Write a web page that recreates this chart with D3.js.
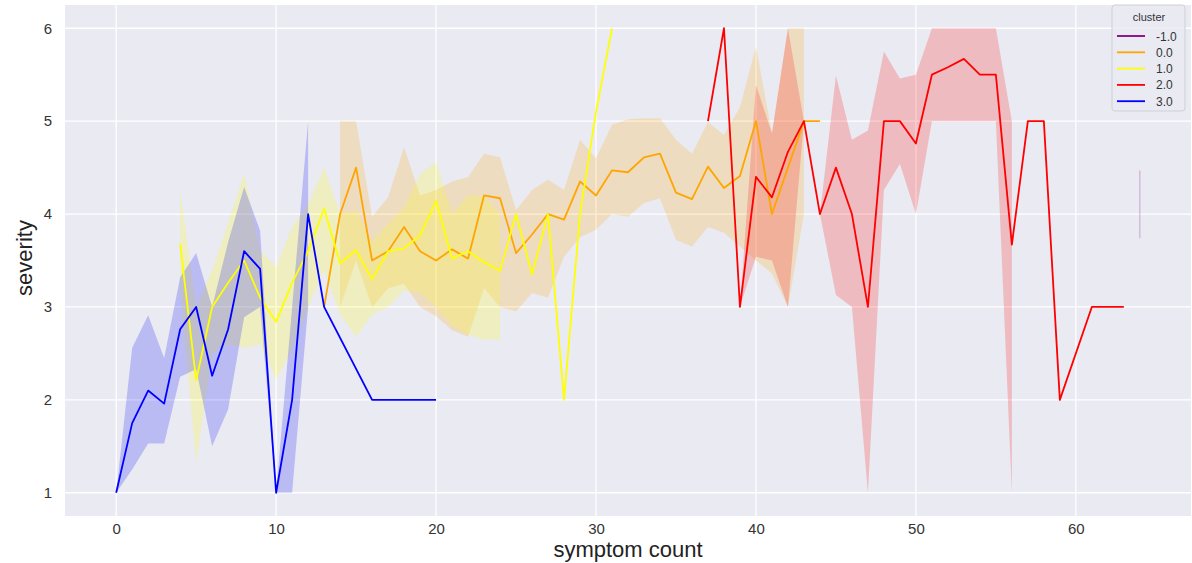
<!DOCTYPE html>
<html>
<head>
<meta charset="utf-8">
<script src="https://cdn.jsdelivr.net/npm/d3@7"></script>
<style>
  body { margin: 0; background: #fff; }
  text { font-family: "Liberation Sans", Arial, sans-serif; }
</style>
</head>
<body>
<div id="chart"></div>
<script>
var clusters = ["-1.0", "0.0", "1.0", "2.0", "3.0"];
var colors = ["purple", "orange", "yellow", "red", "blue"];

// cluster -1.0
var xs_m1 = [64];
var mean_m1 = [4.1];
var lo_m1 = [3.74];
var hi_m1 = [4.47];

// cluster 0.0
var xs_0 = [13, 14, 15, 16, 17, 18, 19, 20, 21, 22, 23, 24, 25, 26, 27, 28, 29, 30, 31, 32, 33, 34, 35, 36, 37, 38, 39, 40, 41, 42, 43, 44];
var mean_0 = [3.0, 4.0, 4.5, 3.5, 3.6, 3.86, 3.6, 3.5, 3.62, 3.52, 4.2, 4.17, 3.58, 3.78, 4.0, 3.94, 4.35, 4.2, 4.47, 4.45, 4.61, 4.65, 4.23, 4.16, 4.51, 4.28, 4.41, 5.0, 4.0, 4.5, 5.0, 5.0];
var lo_0 = [null, 3.0, 3.5, 3.0, 3.2, 3.25, 3.0, 2.9, 2.75, 2.68, 3.2, 3.0, 2.95, 3.15, 3.1, 3.54, 3.75, 3.83, 4.0, 3.97, 4.12, 4.17, 3.72, 3.65, 3.86, 3.8, 3.65, 3.5, 3.36, 3.0, 4.0, null];
var hi_0 = [null, 5.0, 5.0, 3.97, 4.18, 4.72, 4.2, 4.26, 4.35, 4.4, 4.65, 4.61, 4.04, 4.26, 4.37, 4.26, 4.8, 4.6, 4.96, 5.02, 5.03, 5.03, 4.8, 4.65, 4.99, 4.85, 5.15, 5.8, 4.87, 6.0, 6.0, null];

// cluster 1.0
var xs_1 = [4, 5, 6, 7, 8, 9, 10, 11, 12, 13, 14, 15, 16, 17, 18, 19, 20, 21, 22, 23, 24, 25, 26, 27, 28, 29, 30, 31];
var mean_1 = [3.68, 2.21, 3.0, 3.26, 3.5, 3.1, 2.84, 3.26, 3.6, 4.06, 3.47, 3.61, 3.3, 3.6, 3.63, 3.77, 4.14, 3.52, 3.6, 3.48, 3.39, 4.0, 3.35, 4.0, 2.0, 4.0, 5.1, 6.0];
var lo_1 = [3.2, 1.32, 2.5, 2.6, 2.56, 2.6, 2.22, 2.54, 3.0, 3.4, 2.92, 2.68, 2.92, 3.0, 3.18, 3.15, 3.0, 2.8, 2.7, 2.65, 2.65, null, null, null, null, null, null, null];
var hi_1 = [4.26, 3.0, 3.4, 3.9, 4.44, 3.6, 3.43, 3.86, 4.1, 4.5, 4.0, 4.04, 3.7, 3.9, 4.07, 4.43, 4.56, 4.0, 4.2, 4.2, 4.0, null, null, null, null, null, null, null];

// cluster 2.0
var xs_2 = [37, 38, 39, 40, 41, 42, 43, 44, 45, 46, 47, 48, 49, 50, 51, 52, 53, 54, 55, 56, 57, 58, 59, 61, 63];
var mean_2 = [5.0, 6.0, 3.0, 4.4, 4.18, 4.67, 5.0, 4.0, 4.5, 4.0, 3.0, 5.0, 5.0, 4.76, 5.5, 5.58, 5.67, 5.5, 5.5, 3.67, 5.0, 5.0, 2.0, 3.0, 3.0];
var lo_2 = [null, null, 3.0, 3.54, 3.5, 3.0, 5.0, 4.0, 3.13, 3.0, 1.0, 4.26, 4.54, 4.0, 5.0, 5.0, 5.0, 5.0, 5.0, 1.0, null, null, null, null, null];
var hi_2 = [null, null, 3.0, 5.39, 4.87, 6.0, 5.0, 4.0, 5.49, 4.8, 4.9, 5.75, 5.46, 5.5, 6.0, 6.0, 6.0, 6.0, 6.0, 5.0, null, null, null, null, null];

// cluster 3.0
var xs_3 = [0, 1, 2, 3, 4, 5, 6, 7, 8, 9, 10, 11, 12, 13, 16, 20];
var mean_3 = [1.0, 1.75, 2.1, 1.96, 2.76, 3.0, 2.26, 2.76, 3.6, 3.41, 1.0, 2.0, 4.0, 3.0, 2.0, 2.0];
var lo_3 = [1.0, 1.25, 1.53, 1.53, 2.25, 2.33, 1.5, 1.9, 2.89, 3.0, 1.0, 1.0, 3.0, null, null, null];
var hi_3 = [1.0, 2.56, 2.91, 2.45, 3.32, 3.58, 3.0, 3.7, 4.29, 3.82, 1.0, 3.0, 5.0, null, null, null];

var xTicks = [0, 10, 20, 30, 40, 50, 60];
var yTicks = [1, 2, 3, 4, 5, 6];

var series = [
  [xs_m1, mean_m1, lo_m1, hi_m1],
  [xs_0, mean_0, lo_0, hi_0],
  [xs_1, mean_1, lo_1, hi_1],
  [xs_2, mean_2, lo_2, hi_2],
  [xs_3, mean_3, lo_3, hi_3]
].map(function(s, k) {
  return {
    name: clusters[k],
    color: colors[k],
    points: s[0].map(function(x, i) {
      return { x: x, m: s[1][i], lo: s[2][i], hi: s[3][i] };
    })
  };
});

var W = 1192, H = 563;
var plotL = 65, plotR = 1191, plotT = 5, plotB = 516;

var svg = d3.select("#chart").append("svg")
    .attr("width", W)
    .attr("height", H);

var x = d3.scaleLinear().domain([-3.2, 67.2]).range([plotL, plotR]);
var y = d3.scaleLinear().domain([0.75, 6.25]).range([plotB, plotT]);

svg.append("rect")
    .attr("x", plotL).attr("y", plotT)
    .attr("width", plotR - plotL).attr("height", plotB - plotT)
    .attr("fill", "#eaeaf2");

// grid
svg.append("g").selectAll("line").data(xTicks).enter().append("line")
    .attr("x1", function(d) { return x(d); }).attr("x2", function(d) { return x(d); })
    .attr("y1", plotT).attr("y2", plotB)
    .attr("stroke", "#fff").attr("stroke-width", 1.3);
svg.append("g").selectAll("line").data(yTicks).enter().append("line")
    .attr("x1", plotL).attr("x2", plotR)
    .attr("y1", function(d) { return y(d); }).attr("y2", function(d) { return y(d); })
    .attr("stroke", "#fff").attr("stroke-width", 1.3);

// confidence bands first, lines on top
var area = d3.area()
    .defined(function(d) { return d.lo != null && d.hi != null; })
    .x(function(d) { return x(d.x); })
    .y0(function(d) { return y(d.lo); })
    .y1(function(d) { return y(d.hi); });

var line = d3.line()
    .x(function(d) { return x(d.x); })
    .y(function(d) { return y(d.m); });

series.forEach(function(s) {
  if (s.points.length > 1) {
    svg.append("path")
        .datum(s.points)
        .attr("d", area)
        .attr("fill", s.color)
        .attr("fill-opacity", 0.2)
        .attr("stroke", "none");
  } else {
    // a single x: the band shrinks to a vertical stroke
    var p = s.points[0];
    svg.append("line")
        .attr("x1", x(p.x)).attr("x2", x(p.x))
        .attr("y1", y(p.lo)).attr("y2", y(p.hi))
        .attr("stroke", s.color)
        .attr("stroke-opacity", 0.25)
        .attr("stroke-width", 1.2);
  }
});

series.forEach(function(s) {
  svg.append("path")
      .datum(s.points)
      .attr("d", line)
      .attr("fill", "none")
      .attr("stroke", s.color)
      .attr("stroke-width", 1.8)
      .attr("stroke-linejoin", "round");
});

// axes
var xAxis = svg.append("g")
    .attr("transform", "translate(0," + plotB + ")")
    .call(d3.axisBottom(x).tickValues(xTicks).tickSize(0).tickPadding(7));
xAxis.select(".domain").remove();
xAxis.selectAll("text").attr("font-size", 15).attr("fill", "#333")
    .style("font-family", "'Liberation Sans', Arial, sans-serif");

var yAxis = svg.append("g")
    .attr("transform", "translate(" + plotL + ",0)")
    .call(d3.axisLeft(y).tickValues(yTicks).tickFormat(d3.format("d")).tickSize(0).tickPadding(13));
yAxis.select(".domain").remove();
yAxis.selectAll("text").attr("font-size", 15).attr("fill", "#333")
    .style("font-family", "'Liberation Sans', Arial, sans-serif");

svg.append("text")
    .attr("x", 628).attr("y", 557)
    .attr("text-anchor", "middle")
    .attr("font-size", 22)
    .attr("fill", "#222")
    .text("symptom count");

svg.append("text")
    .attr("transform", "translate(32,258) rotate(-90)")
    .attr("text-anchor", "middle")
    .attr("font-size", 22)
    .attr("fill", "#222")
    .text("severity");

// legend
var lg = svg.append("g").attr("transform", "translate(1112,5)");
lg.append("rect")
    .attr("width", 73).attr("height", 106)
    .attr("rx", 3)
    .attr("fill", "#eaeaf2").attr("fill-opacity", 0.8)
    .attr("stroke", "#cfcfd6");
lg.append("text")
    .attr("x", 37).attr("y", 16)
    .attr("text-anchor", "middle")
    .attr("font-size", 11)
    .attr("fill", "#333")
    .text("cluster");
var rows = lg.selectAll(".row").data(series).enter().append("g")
    .attr("transform", function(d, i) { return "translate(0," + (31 + i * 16.3) + ")"; });
rows.append("line")
    .attr("x1", 5).attr("x2", 33)
    .attr("stroke", function(d) { return d.color; })
    .attr("stroke-width", 1.8);
rows.append("text")
    .attr("x", 44).attr("y", 4.5)
    .attr("font-size", 12)
    .attr("fill", "#333")
    .text(function(d) { return d.name; });
</script>
</body>
</html>
